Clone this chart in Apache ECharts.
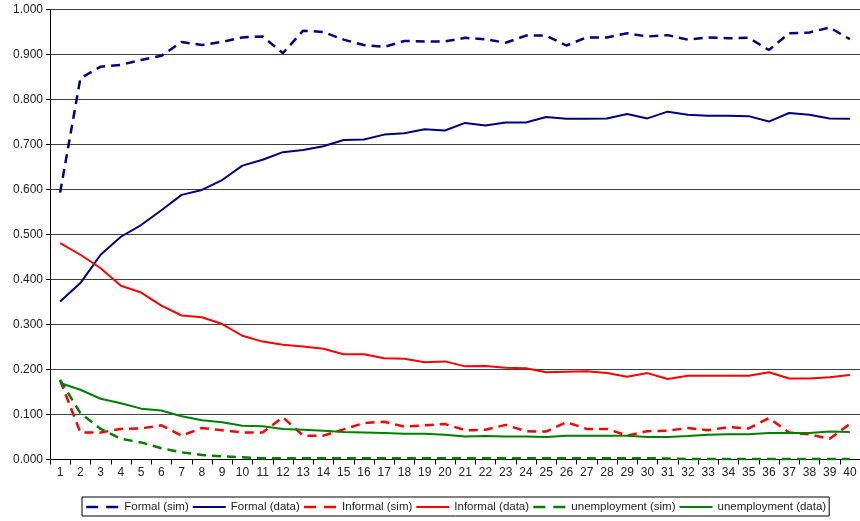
<!DOCTYPE html>
<html>
<head>
<meta charset="utf-8">
<script src="https://cdn.jsdelivr.net/npm/echarts@6/dist/echarts.min.js"></script>
<style>
html,body{margin:0;padding:0;background:#fff;}
#main{width:860px;height:521px;}
</style>
</head>
<body>
<div id="main"></div>
<script>
var categories = [];
for (var i = 1; i <= 40; i++) categories.push(String(i));

var formalSim = [0.593,0.847,0.873,0.877,0.888,0.897,0.928,0.921,0.928,0.938,
                 0.940,0.903,0.953,0.950,0.933,0.921,0.917,0.930,0.929,0.929,
                 0.937,0.934,0.926,0.942,0.942,0.920,0.938,0.938,0.947,0.940,
                 0.943,0.933,0.938,0.936,0.937,0.910,0.947,0.949,0.960,0.934];
var formalData = [0.351,0.392,0.455,0.495,0.521,0.554,0.588,0.599,0.621,0.653,
                  0.666,0.683,0.688,0.696,0.710,0.711,0.722,0.725,0.734,0.731,
                  0.748,0.742,0.749,0.749,0.761,0.757,0.757,0.758,0.768,0.758,
                  0.773,0.766,0.764,0.764,0.763,0.751,0.770,0.766,0.758,0.757];
var informalSim = [0.176,0.060,0.060,0.068,0.069,0.076,0.053,0.070,0.065,0.060,
                   0.060,0.094,0.053,0.053,0.067,0.081,0.084,0.073,0.076,0.079,
                   0.065,0.066,0.077,0.063,0.062,0.083,0.068,0.068,0.053,0.063,
                   0.064,0.070,0.065,0.072,0.069,0.092,0.060,0.056,0.046,0.079];
var informalData = [0.481,0.455,0.425,0.386,0.371,0.342,0.320,0.316,0.301,0.275,
                    0.262,0.255,0.251,0.246,0.234,0.234,0.225,0.224,0.216,0.218,
                    0.207,0.208,0.204,0.203,0.194,0.195,0.196,0.192,0.184,0.192,
                    0.179,0.186,0.186,0.186,0.186,0.194,0.180,0.180,0.183,0.188];
var unempSim = [0.177,0.103,0.068,0.046,0.038,0.025,0.016,0.010,0.007,0.005,
                0.003,0.003,0.003,0.003,0.003,0.003,0.003,0.003,0.003,0.003,
                0.003,0.003,0.003,0.003,0.003,0.003,0.003,0.003,0.003,0.003,
                0.002,0.001,0.001,0.001,0.001,0.001,0.001,0.001,0.001,0.001];
var unempData = [0.170,0.155,0.135,0.125,0.113,0.109,0.096,0.087,0.083,0.075,
                 0.074,0.068,0.066,0.064,0.061,0.060,0.059,0.057,0.057,0.055,
                 0.051,0.052,0.051,0.051,0.050,0.053,0.053,0.053,0.053,0.050,
                 0.050,0.052,0.055,0.056,0.056,0.059,0.059,0.059,0.062,0.061];
var yTicks = [0, 0.1, 0.2, 0.3, 0.4, 0.5, 0.6, 0.7, 0.8, 0.9, 1.0];
var legendNames = ['Formal (sim)', 'Formal (data)', 'Informal (sim)', 'Informal (data)', 'unemployment (sim)', 'unemployment (data)'];

var NAVY = '#000080', RED = '#ff0000', GREEN = '#008000';
function mk(name, data, color, dashed) {
  return {
    name: name, type: 'line', data: data,
    symbol: 'none', showSymbol: false, smooth: false,
    animation: false,
    lineStyle: { color: color, width: dashed ? 2.5 : 2, type: dashed ? [9, 6] : 'solid' },
    itemStyle: { color: color }
  };
}
var legendData = legendNames.map(function (n, idx) {
  var item = { name: n };
  if (idx % 2 === 0) item.lineStyle = { type: [12, 8], width: 2.5 };
  return item;
});

var chart = echarts.init(document.getElementById('main'), null, {renderer: 'canvas'});
chart.setOption({
  backgroundColor: '#ffffff',
  animation: false,
  textStyle: { fontFamily: 'Liberation Sans, Arial, sans-serif' },
  grid: { left: 50, top: 9.5, width: 812, height: 450, containLabel: false },
  legend: {
    left: 82, top: 497, right: 0,
    orient: 'horizontal',
    itemWidth: 33, itemHeight: 14, itemGap: 3,
    padding: [4, 3, 3, 3],
    borderColor: '#000', borderWidth: 1,
    itemStyle: { opacity: 0, borderWidth: 0 },
    textStyle: { fontSize: 11.5, color: '#222', fontFamily: 'Liberation Sans, Arial, sans-serif' },
    data: legendData
  },
  xAxis: {
    type: 'category', data: categories, boundaryGap: true,
    axisLine: { lineStyle: { color: '#000', width: 1 } },
    axisTick: { show: true, length: 5, lineStyle: { color: '#000' } },
    axisLabel: { color: '#222', fontSize: 12, margin: 7, interval: 0 },
    splitLine: { show: false }
  },
  yAxis: {
    type: 'value', min: yTicks[0], max: yTicks[yTicks.length - 1], interval: 0.1,
    axisLine: { show: true, lineStyle: { color: '#000', width: 1 } },
    axisTick: { show: true, length: 4, lineStyle: { color: '#000' } },
    axisLabel: { color: '#222', fontSize: 12, margin: 7, formatter: function (v) { return v.toFixed(3); } },
    splitLine: { show: true, lineStyle: { color: '#404040', width: 1 } }
  },
  series: [
    mk(legendNames[0], formalSim, NAVY, true),
    mk(legendNames[1], formalData, NAVY, false),
    mk(legendNames[2], informalSim, RED, true),
    mk(legendNames[3], informalData, RED, false),
    mk(legendNames[4], unempSim, GREEN, true),
    mk(legendNames[5], unempData, GREEN, false)
  ]
});
</script>
</body>
</html>
